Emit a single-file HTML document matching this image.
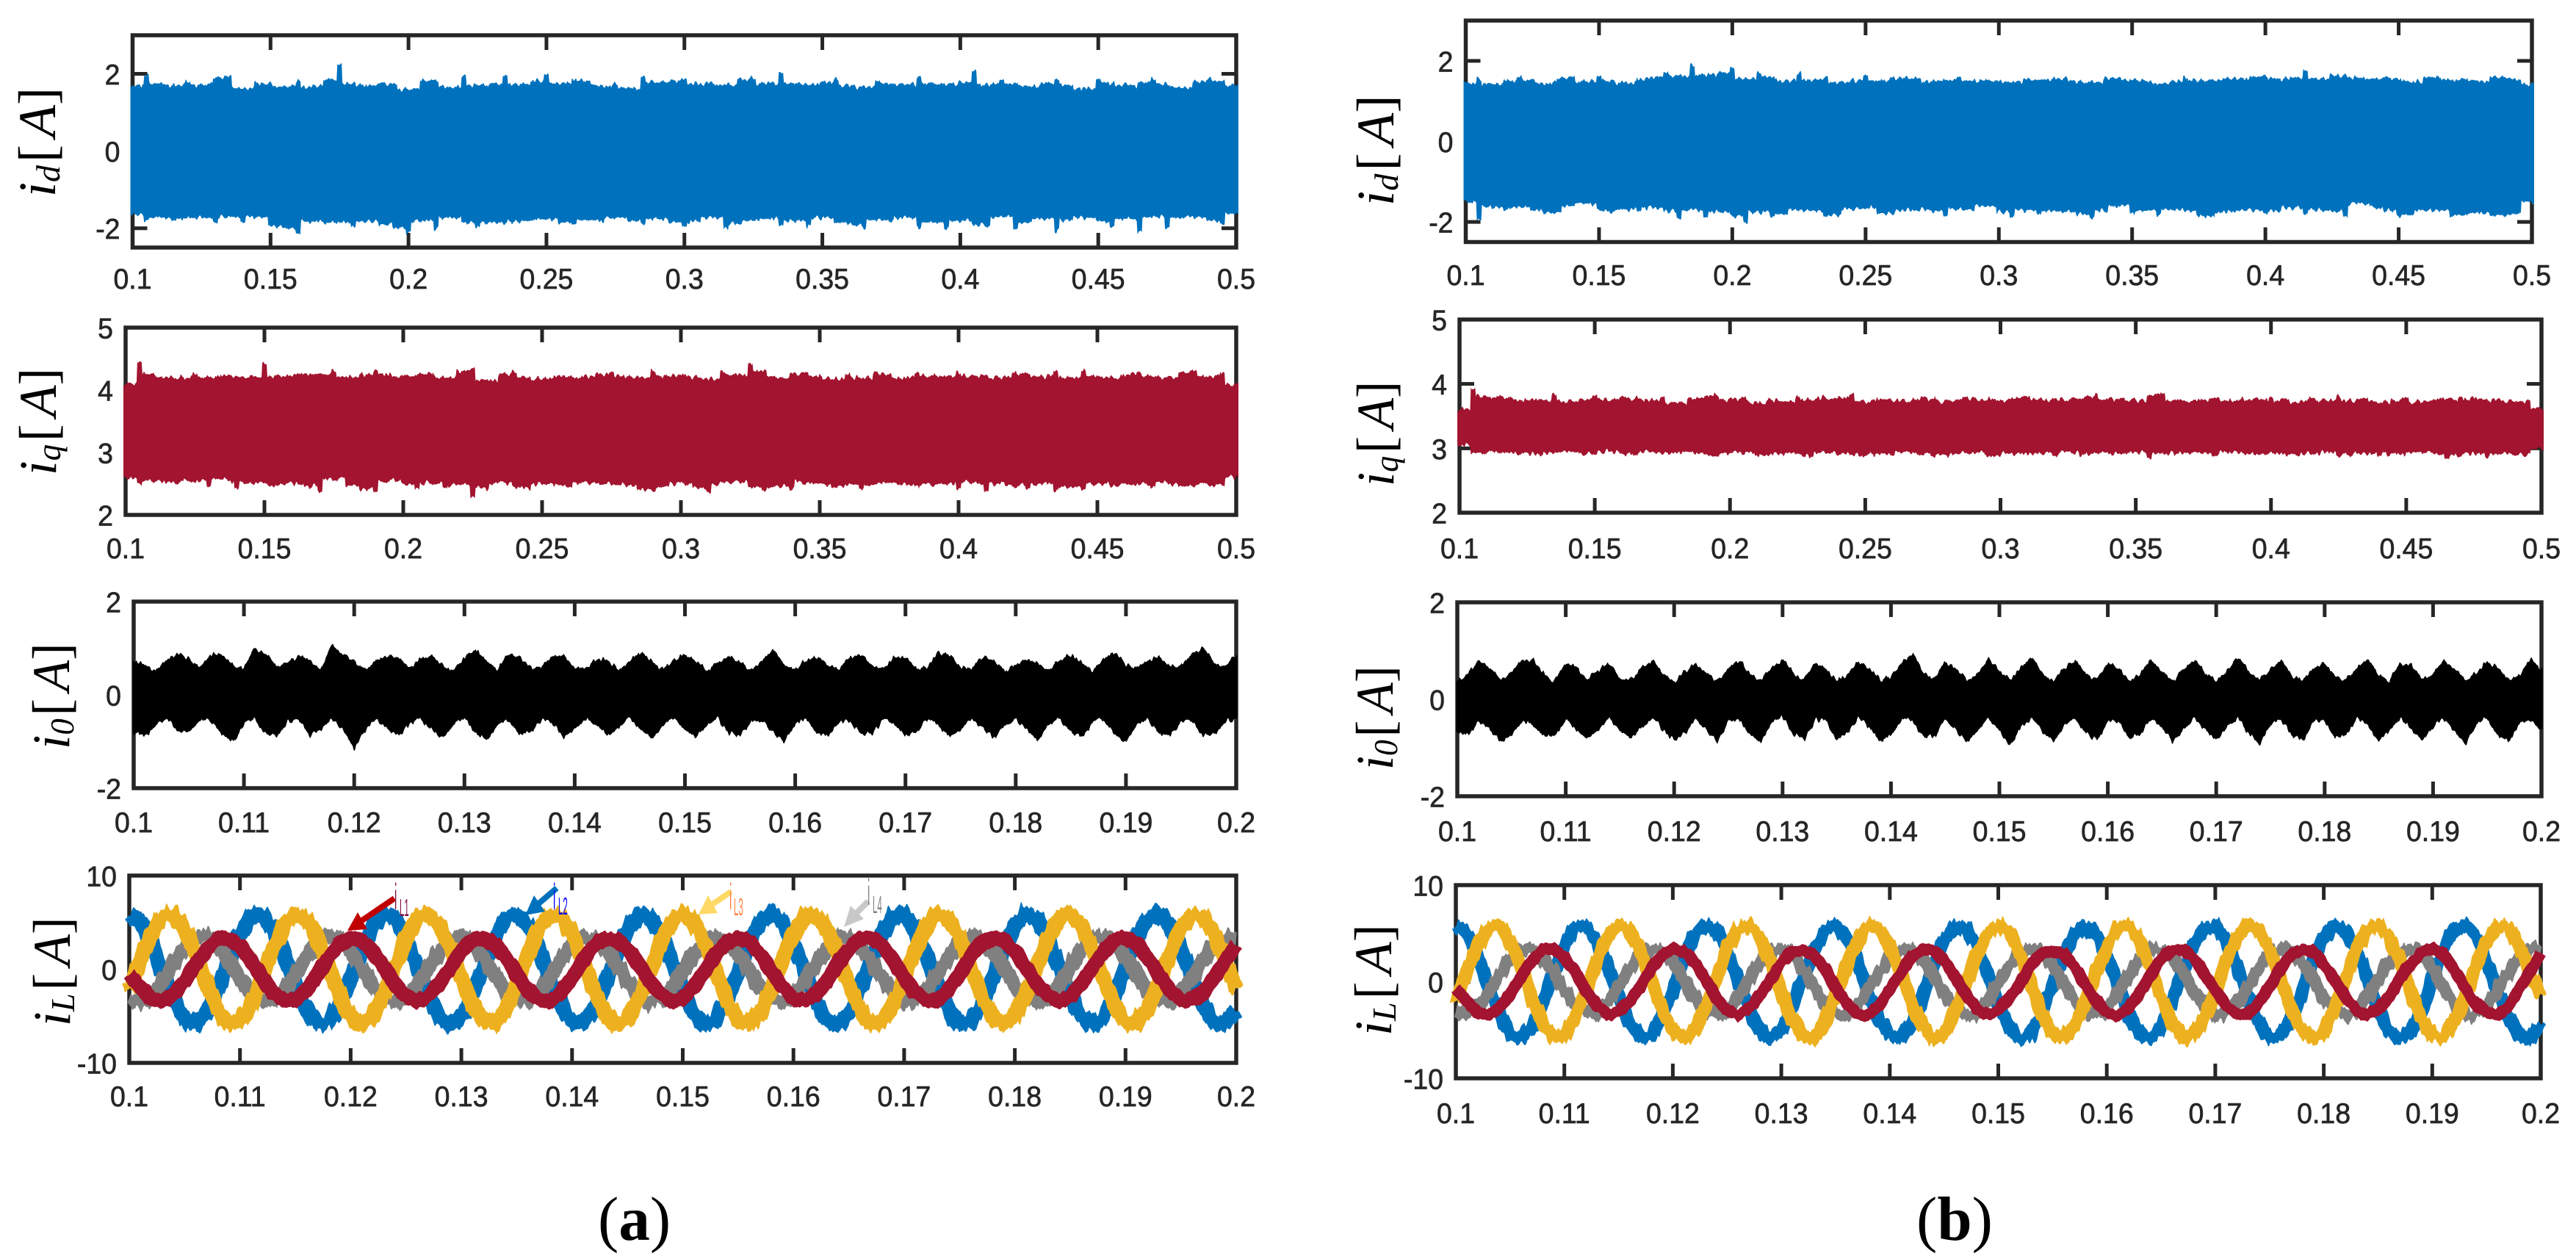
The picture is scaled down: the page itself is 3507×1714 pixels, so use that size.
<!DOCTYPE html>
<html lang="en">
<head>
<meta charset="utf-8">
<title>Current waveforms id, iq, i0, iL</title>
<style>
html,body{margin:0;padding:0;background:#fff;}
#chart{display:block;width:3507px;height:1714px;background:#fff;}
.tick-label{font-family:"Liberation Sans",Arial,sans-serif;font-size:39px;fill:#262626;stroke:#262626;stroke-width:.7px;}
.axis-label{font-family:"Liberation Serif","Times New Roman",serif;font-size:72px;fill:#000;}
.axis-label .it{font-style:italic;}
.axis-label .sub{font-style:italic;font-size:46px;}
.caption{font-family:"Liberation Serif","Times New Roman",serif;font-size:85px;fill:#000;}
.tag{font-family:"Liberation Sans",Arial,sans-serif;}
</style>
</head>
<body>
<svg id="chart" xmlns="http://www.w3.org/2000/svg" width="3507" height="1714" viewBox="0 0 3507 1714">
  <defs>
    <filter id="rough-line-1" filterUnits="userSpaceOnUse" x="0" y="0" width="3507" height="1714" color-interpolation-filters="sRGB">
      <feTurbulence type="fractalNoise" baseFrequency="0.16 0.012" numOctaves="2" seed="3"/>
      <feColorMatrix values="0 0 0 0 .5  0 1 0 0 0  0 0 0 0 .5  0 0 0 0 1" result="noise"/>
      <feDisplacementMap in="SourceGraphic" in2="noise" scale="20" xChannelSelector="R" yChannelSelector="G"/>
    </filter>
    <filter id="rough-line-2" filterUnits="userSpaceOnUse" x="0" y="0" width="3507" height="1714" color-interpolation-filters="sRGB">
      <feTurbulence type="fractalNoise" baseFrequency="0.16 0.012" numOctaves="2" seed="11"/>
      <feColorMatrix values="0 0 0 0 .5  0 1 0 0 0  0 0 0 0 .5  0 0 0 0 1" result="noise"/>
      <feDisplacementMap in="SourceGraphic" in2="noise" scale="20" xChannelSelector="R" yChannelSelector="G"/>
    </filter>
    <filter id="rough-line-3" filterUnits="userSpaceOnUse" x="0" y="0" width="3507" height="1714" color-interpolation-filters="sRGB">
      <feTurbulence type="fractalNoise" baseFrequency="0.16 0.012" numOctaves="2" seed="23"/>
      <feColorMatrix values="0 0 0 0 .5  0 1 0 0 0  0 0 0 0 .5  0 0 0 0 1" result="noise"/>
      <feDisplacementMap in="SourceGraphic" in2="noise" scale="20" xChannelSelector="R" yChannelSelector="G"/>
    </filter>
    <filter id="rough-line-4" filterUnits="userSpaceOnUse" x="0" y="0" width="3507" height="1714" color-interpolation-filters="sRGB">
      <feTurbulence type="fractalNoise" baseFrequency="0.12 0.012" numOctaves="2" seed="37"/>
      <feColorMatrix values="0 0 0 0 .5  0 1 0 0 0  0 0 0 0 .5  0 0 0 0 1" result="noise"/>
      <feDisplacementMap in="SourceGraphic" in2="noise" scale="10" xChannelSelector="R" yChannelSelector="G"/>
    </filter>
    <filter id="rough-band" filterUnits="userSpaceOnUse" x="0" y="0" width="3507" height="1714" color-interpolation-filters="sRGB">
      <feTurbulence type="fractalNoise" baseFrequency="0.2 0.01" numOctaves="2" seed="5"/>
      <feColorMatrix values="0 0 0 0 .5  0 1 0 0 0  0 0 0 0 .5  0 0 0 0 1" result="noise"/>
      <feDisplacementMap in="SourceGraphic" in2="noise" scale="13" xChannelSelector="R" yChannelSelector="G"/>
    </filter>
  </defs>

  <g id="panels"></g>

  <g>
    <text class="axis-label" transform="translate(75,268) rotate(-90)"><tspan class="it">i</tspan><tspan class="sub" dy="6">d</tspan><tspan dy="-6" dx="4">[</tspan><tspan class="it" dx="10">A</tspan><tspan>]</tspan></text>
    <text class="axis-label" transform="translate(76,647) rotate(-90) scale(.98,1)"><tspan class="it">i</tspan><tspan class="sub" dy="6">q</tspan><tspan dy="-6" dx="4">[</tspan><tspan class="it" dx="10">A</tspan><tspan>]</tspan></text>
    <text class="axis-label" transform="translate(94,1020) rotate(-90) scale(.97,1)"><tspan class="it">i</tspan><tspan class="sub" dy="6">0</tspan><tspan dy="-6" dx="4">[</tspan><tspan class="it" dx="10">A</tspan><tspan>]</tspan></text>
    <text class="axis-label" transform="translate(95,1397) rotate(-90) scale(.98,1)"><tspan class="it">i</tspan><tspan class="sub" dy="6">L</tspan><tspan dy="-6" dx="4">[</tspan><tspan class="it" dx="10">A</tspan><tspan>]</tspan></text>
    <text class="axis-label" transform="translate(1897,280) rotate(-90) scale(1.01,1)"><tspan class="it">i</tspan><tspan class="sub" dy="6">d</tspan><tspan dy="-6" dx="4">[</tspan><tspan class="it" dx="10">A</tspan><tspan>]</tspan></text>
    <text class="axis-label" transform="translate(1897,662) rotate(-90) scale(.96,1)"><tspan class="it">i</tspan><tspan class="sub" dy="6">q</tspan><tspan dy="-6" dx="4">[</tspan><tspan class="it" dx="10">A</tspan><tspan>]</tspan></text>
    <text class="axis-label" transform="translate(1896,1048) rotate(-90) scale(.95,1)"><tspan class="it">i</tspan><tspan class="sub" dy="6">0</tspan><tspan dy="-6" dx="4">[</tspan><tspan class="it" dx="10">A</tspan><tspan>]</tspan></text>
    <text class="axis-label" transform="translate(1894,1410) rotate(-90)"><tspan class="it">i</tspan><tspan class="sub" dy="6">L</tspan><tspan dy="-6" dx="4">[</tspan><tspan class="it" dx="10">A</tspan><tspan>]</tspan></text>
  </g>

  <g>
    <g>
      <line x1="537" y1="1223" x2="490" y2="1255" stroke="#C00000" stroke-width="8"/>
      <polygon points="473,1267 487,1242 500,1265" fill="#C00000"/>
      <text class="tag" transform="translate(537,1238) scale(.3,1)" font-size="50" fill="#7F0F3F">i</text>
      <text class="tag" transform="translate(544,1247) scale(.35,1)" font-size="33" fill="#7F0F3F">L1</text>
    </g>
    <g>
      <line x1="758" y1="1209" x2="730" y2="1233" stroke="#0072BD" stroke-width="8"/>
      <polygon points="715,1246 727,1219 742,1241" fill="#0072BD"/>
      <text class="tag" transform="translate(753,1238) scale(.3,1)" font-size="50" fill="#0000FF">i</text>
      <text class="tag" transform="translate(760,1245) scale(.35,1)" font-size="33" fill="#0000FF">L2</text>
    </g>
    <g>
      <line x1="995" y1="1214" x2="967" y2="1233" stroke="#FFD966" stroke-width="8"/>
      <polygon points="951,1245 964,1219 977,1243" fill="#FFD966"/>
      <text class="tag" transform="translate(993,1238) scale(.3,1)" font-size="50" fill="#FF7F40">i</text>
      <text class="tag" transform="translate(999,1246) scale(.35,1)" font-size="33" fill="#FF7F40">L3</text>
    </g>
    <g>
      <line x1="1182" y1="1227" x2="1165" y2="1244" stroke="#C8C8C8" stroke-width="8"/>
      <polygon points="1149,1262 1158,1233 1176,1251" fill="#C8C8C8"/>
      <text class="tag" transform="translate(1181,1232) scale(.3,1)" font-size="50" fill="#808080">i</text>
      <text class="tag" transform="translate(1188,1243) scale(.35,1)" font-size="33" fill="#808080">L4</text>
    </g>
  </g>

  <text class="caption" x="814" y="1688">(<tspan font-weight="bold">a</tspan>)</text>
  <text class="caption" x="2609" y="1688">(<tspan font-weight="bold">b</tspan>)</text>
</svg>

<script>
// tick values and labels
const longTicks = [0.1,0.15,0.2,0.25,0.3,0.35,0.4,0.45,0.5];
const longTickLabels = ["0.1","0.15","0.2","0.25","0.3","0.35","0.4","0.45","0.5"];
const shortTicks = [0.1,0.11,0.12,0.13,0.14,0.15,0.16,0.17,0.18,0.19,0.2];
const shortTickLabels = ["0.1","0.11","0.12","0.13","0.14","0.15","0.16","0.17","0.18","0.19","0.2"];
const idTicks = [-2,0,2];
const idTickLabels = ["-2","0","2"];
const iqTicks = [2,3,4,5];
const iqTickLabels = ["2","3","4","5"];
const i0Ticks = [-2,0,2];
const i0TickLabels = ["-2","0","2"];
const ilTicks = [-10,0,10];
const ilTickLabels = ["-10","0","10"];

// (a) id envelope, sampled every 5 ms
const idUpperA = [1.7,1.95,1.75,1.7,1.78,1.72,1.9,1.95,1.62,1.75,1.72,1.68,1.8,1.66,1.85,2.25,1.74,1.7,1.74,1.72,1.6,1.85,1.82,1.66,1.92,1.7,1.74,1.95,1.72,1.82,1.98,1.75,1.86,1.82,1.7,1.72,1.62,1.9,1.78,1.82,1.85,1.75,1.8,1.7,1.85,1.9,1.75,2.0,1.76,1.72,1.78,1.85,1.7,1.66,1.8,1.74,1.72,1.9,1.76,1.72,1.78,2.05,1.72,1.82,1.74,1.68,1.76,1.85,1.72,1.62,1.86,1.76,1.7,1.78,1.86,1.74,1.64,1.78,1.85,1.82,1.7];
const idLowerA = [-1.65,-1.78,-1.72,-1.8,-1.74,-1.72,-1.85,-1.7,-1.82,-1.7,-1.95,-1.98,-2.1,-1.82,-1.85,-1.85,-1.95,-1.82,-1.9,-1.98,-2.12,-1.8,-2.0,-1.72,-1.85,-1.95,-1.85,-1.85,-1.82,-1.8,-1.76,-1.85,-1.9,-1.78,-1.82,-1.72,-1.8,-1.88,-1.75,-1.85,-1.95,-1.82,-1.72,-2.0,-1.88,-1.8,-1.75,-1.92,-1.8,-1.95,-1.72,-1.85,-1.9,-1.98,-1.78,-1.82,-1.72,-1.95,-1.85,-2.02,-1.8,-1.9,-1.95,-1.7,-2.0,-1.85,-1.75,-2.05,-1.78,-1.72,-1.82,-1.95,-1.75,-2.12,-1.7,-2.0,-1.72,-1.7,-1.8,-1.9,-1.62];
// (b) id envelope
const idUpperB = [1.45,1.55,1.42,1.5,1.6,1.52,1.45,1.56,1.6,1.48,1.62,1.5,1.45,1.55,1.6,1.7,1.62,1.87,1.65,1.7,1.82,1.55,1.7,1.6,1.5,1.7,1.52,1.58,1.46,1.5,1.65,1.5,1.56,1.6,1.55,1.48,1.52,1.58,1.5,1.52,1.5,1.48,1.54,1.52,1.55,1.55,1.5,1.46,1.56,1.58,1.52,1.5,1.44,1.48,1.6,1.5,1.52,1.56,1.55,1.6,1.62,1.55,1.58,1.75,1.55,1.66,1.62,1.58,1.55,1.6,1.55,1.48,1.58,1.6,1.52,1.56,1.5,1.6,1.58,1.54,1.4];
const idLowerB = [-1.5,-1.95,-1.62,-1.7,-1.62,-1.72,-1.78,-1.75,-1.6,-1.55,-1.7,-1.78,-1.68,-1.72,-1.65,-1.72,-1.9,-1.7,-1.88,-1.75,-1.85,-2.0,-1.75,-1.85,-1.8,-1.7,-1.72,-1.85,-1.82,-1.68,-1.65,-1.78,-1.8,-1.72,-1.7,-1.72,-1.85,-1.68,-1.72,-1.6,-1.75,-1.88,-1.7,-1.82,-1.72,-1.75,-1.8,-1.9,-1.72,-1.6,-1.78,-1.7,-1.82,-1.7,-1.72,-1.85,-1.88,-1.75,-1.72,-1.7,-1.78,-1.72,-1.65,-1.8,-1.7,-1.72,-1.85,-1.55,-1.65,-1.72,-1.85,-1.82,-1.72,-1.7,-1.85,-1.82,-1.78,-1.82,-1.85,-1.8,-1.5];

// iq envelopes
const iqUpperA = [4.1,4.45,4.25,4.2,4.2,4.25,4.2,4.25,4.22,4.2,4.42,4.22,4.25,4.25,4.25,4.3,4.2,4.25,4.3,4.25,4.22,4.25,4.28,4.2,4.3,4.35,4.15,4.25,4.3,4.2,4.18,4.22,4.2,4.22,4.25,4.28,4.22,4.2,4.3,4.22,4.25,4.22,4.18,4.28,4.25,4.42,4.3,4.2,4.25,4.28,4.22,4.18,4.25,4.2,4.28,4.25,4.2,4.28,4.22,4.22,4.28,4.22,4.22,4.2,4.28,4.25,4.22,4.3,4.2,4.3,4.22,4.2,4.25,4.28,4.22,4.2,4.28,4.3,4.22,4.28,4.1];
const iqLowerA = [2.6,2.5,2.55,2.5,2.52,2.55,2.48,2.55,2.42,2.52,2.5,2.48,2.5,2.46,2.38,2.58,2.48,2.42,2.38,2.55,2.5,2.42,2.52,2.42,2.48,2.28,2.44,2.52,2.45,2.42,2.5,2.48,2.45,2.52,2.5,2.5,2.48,2.38,2.4,2.45,2.5,2.42,2.38,2.5,2.52,2.45,2.4,2.45,2.42,2.52,2.5,2.45,2.48,2.42,2.5,2.52,2.48,2.45,2.5,2.5,2.42,2.52,2.38,2.5,2.48,2.42,2.5,2.4,2.45,2.42,2.5,2.45,2.48,2.5,2.42,2.5,2.45,2.48,2.5,2.48,2.6];
const iqUpperB = [3.6,3.95,3.8,3.78,3.75,3.78,3.75,3.82,3.72,3.76,3.8,3.75,3.8,3.78,3.75,3.78,3.72,3.8,3.78,3.82,3.76,3.78,3.72,3.76,3.74,3.8,3.76,3.78,3.8,3.85,3.72,3.76,3.75,3.74,3.76,3.78,3.72,3.75,3.8,3.76,3.74,3.78,3.8,3.75,3.78,3.76,3.78,3.84,3.76,3.78,3.74,3.82,3.86,3.76,3.74,3.78,3.76,3.74,3.78,3.75,3.8,3.76,3.72,3.78,3.75,3.8,3.74,3.76,3.72,3.75,3.78,3.72,3.75,3.74,3.8,3.78,3.76,3.74,3.72,3.75,3.6];
const iqLowerB = [3.05,2.93,2.92,2.95,2.93,2.92,2.9,2.94,2.95,2.9,2.92,2.95,2.92,2.88,2.95,2.9,2.93,2.94,2.9,2.88,2.92,2.94,2.88,2.9,2.92,2.9,2.88,2.93,2.92,2.9,2.88,2.92,2.9,2.94,2.92,2.88,2.9,2.92,2.94,2.88,2.9,2.93,2.92,2.92,2.9,2.94,2.9,2.92,2.93,2.9,2.94,2.88,2.92,2.9,2.93,2.92,2.9,2.94,2.92,2.9,2.92,2.9,2.88,2.92,2.94,2.88,2.9,2.93,2.88,2.92,2.9,2.94,2.92,2.86,2.9,2.92,2.88,2.92,2.9,2.9,3.0];

// i0 envelopes, sampled every 1 ms
const i0UpperA = [.7,.62,.5,.72,.88,.75,.55,.85,.85,.6,.55,.98,.85,.58,.68,.82,.72,.5,1.05,.85,.7,.5,.72,.82,.78,.55,.75,.82,.6,.48,.78,.95,.7,.52,.85,.8,.55,.58,.82,.82,.55,.55,.75,.72,.5,.7,.9,.68,.52,.72,.85,.7,.5,.68,.8,.68,.5,.72,.95,.62,.52,.72,.8,.6,.55,.78,.85,.58,.55,.78,.8,.52,.58,.88,.85,.55,.55,.8,.72,.5,.62,.75,.65,.52,.72,.85,.65,.5,.75,.9,.62,.55,.72,.8,.58,.6,.85,1.0,.65,.58,.85];
const i0LowerA = [-.8,-.85,-.65,-.45,-.75,-.78,-.5,-.55,-.8,-1.0,-.6,-.5,-.82,-.85,-.55,-.5,-.85,-.7,-.48,-.72,-1.1,-.72,-.48,-.7,-.85,-.62,-.48,-.72,-.9,-.62,-.45,-.8,-.95,-.6,-.5,-.82,-.78,-.5,-.58,-.88,-.72,-.48,-.62,-.85,-.68,-.48,-.7,-.92,-.62,-.45,-.72,-.88,-.6,-.5,-.8,-.85,-.55,-.52,-.78,-.98,-.58,-.5,-.8,-.85,-.55,-.55,-.82,-.8,-.5,-.6,-.85,-.78,-.48,-.62,-.88,-.72,-.48,-.68,-.9,-.62,-.5,-.72,-.95,-.6,-.48,-.78,-.88,-.55,-.5,-.82,-1.0,-.58,-.52,-.8,-.85,-.55,-.55,-.85,-.82,-.55,-.5];
const i0UpperB = [.35,.5,.78,.62,.36,.55,.78,.8,.48,.35,.72,.65,.38,.58,.72,.42,.38,.62,.78,.5,.34,.55,.72,.5,.34,.62,.78,.48,.38,.62,.8,.52,.36,.72,.62,.36,.48,.75,.62,.4,.42,.72,.92,.5,.38,.75,.6,.36,.5,.82,.55,.38,.62,.85,.48,.36,.62,.78,.48,.38,.72,.62,.35,.52,.78,.55,.36,.58,.8,.52,.36,.55,.85,.55,.38,.6,.78,.45,.4,.62,.72,.42,.4,.62,.8,.48,.36,.72,.68,.38,.48,.78,.6,.36,.52,.75,.62,.36,.5,.8,.6];
const i0LowerB = [-.65,-.72,-.42,-.6,-.85,-.72,-.42,-.5,-.75,-.72,-.42,-.6,-.8,-.6,-.35,-.62,-.78,-.55,-.35,-.62,-.82,-.68,-.36,-.62,-.85,-.42,-.38,-.72,-.85,-.45,-.32,-.7,-.8,-.4,-.42,-.82,-.65,-.36,-.55,-.85,-.72,-.38,-.42,-.75,-.75,-.35,-.62,-.85,-.62,-.35,-.62,-.92,-.55,-.35,-.65,-.85,-.5,-.36,-.68,-.82,-.42,-.42,-.78,-.7,-.36,-.55,-.85,-.6,-.35,-.6,-.82,-.55,-.36,-.68,-.9,-.48,-.38,-.72,-.82,-.42,-.42,-.78,-.7,-.36,-.5,-.85,-.6,-.36,-.6,-.82,-.55,-.35,-.65,-.88,-.48,-.38,-.72,-.85,-.42,-.42,-.6];

// (a) phase currents, sampled every 1 ms
const iL2A = [5.9,5.1,2.8,-.3,-3.3,-5.4,-5.9,-4.7,-2.2,1.0,3.8,5.6,5.8,4.3,1.6,-1.6,-4.3,-5.8,-5.6,-3.8,-1.0,2.2,4.7,5.9,5.4,3.3,.3,-2.8,-5.1,-5.9,-5.1,-2.8,.3,3.3,5.4,5.9,4.7,2.2,-1.0,-3.8,-5.6,-5.8,-4.3,-1.6,1.6,4.3,5.8,5.6,3.8,1.0,-2.2,-4.7,-5.9,-5.4,-3.3,-.3,2.8,5.1,5.9,5.1,2.8,-.3,-3.3,-5.4,-5.9,-4.7,-2.2,1.0,3.8,5.6,5.8,4.3,1.6,-1.6,-4.3,-5.8,-5.6,-3.8,-1.0,2.2,4.7,5.9,5.4,3.3,.3,-2.8,-5.1,-5.9,-5.1,-2.8,.3,3.3,5.4,5.9,4.7,2.2,-1.0,-3.8,-5.6,-5.8,-4.3];
const iL4A = [-3.2,-3.5,-2.8,-1.3,.6,2.3,3.3,3.4,2.5,.9,-.9,-2.5,-3.4,-3.3,-2.3,-.6,1.3,2.8,3.5,3.2,2.0,.2,-1.7,-3.0,-3.5,-3.0,-1.7,.2,2.0,3.2,3.5,2.8,1.3,-.6,-2.3,-3.3,-3.4,-2.5,-.9,.9,2.5,3.4,3.3,2.3,.6,-1.3,-2.8,-3.5,-3.2,-2.0,-.2,1.7,3.0,3.5,3.0,1.7,-.2,-2.0,-3.2,-3.5,-2.8,-1.3,.6,2.3,3.3,3.4,2.5,.9,-.9,-2.5,-3.4,-3.3,-2.3,-.6,1.3,2.8,3.5,3.2,2.0,.2,-1.7,-3.0,-3.5,-3.0,-1.7,.2,2.0,3.2,3.5,2.8,1.3,-.6,-2.3,-3.3,-3.4,-2.5,-.9,.9,2.5,3.4,3.3];
const iL3A = [-2.2,1.0,3.8,5.6,5.8,4.3,1.6,-1.6,-4.3,-5.8,-5.6,-3.8,-1.0,2.2,4.7,5.9,5.4,3.3,.3,-2.8,-5.1,-5.9,-5.1,-2.8,.3,3.3,5.4,5.9,4.7,2.2,-1.0,-3.8,-5.6,-5.8,-4.3,-1.6,1.6,4.3,5.8,5.6,3.8,1.0,-2.2,-4.7,-5.9,-5.4,-3.3,-.3,2.8,5.1,5.9,5.1,2.8,-.3,-3.3,-5.4,-5.9,-4.7,-2.2,1.0,3.8,5.6,5.8,4.3,1.6,-1.6,-4.3,-5.8,-5.6,-3.8,-1.0,2.2,4.7,5.9,5.4,3.3,.3,-2.8,-5.1,-5.9,-5.1,-2.8,.3,3.3,5.4,5.9,4.7,2.2,-1.0,-3.8,-5.6,-5.8,-4.3,-1.6,1.6,4.3,5.8,5.6,3.8,1.0,-2.2];
const iL1A = [-.6,-1.9,-3.1,-3.4,-2.7,-1.3,.6,2.2,3.2,3.3,2.5,.9,-.9,-2.5,-3.3,-3.2,-2.2,-.6,1.3,2.7,3.4,3.1,1.9,.2,-1.6,-2.9,-3.4,-2.9,-1.6,.2,1.9,3.1,3.4,2.7,1.3,-.6,-2.2,-3.2,-3.3,-2.5,-.9,.9,2.5,3.3,3.2,2.2,.6,-1.3,-2.7,-3.4,-3.1,-1.9,-.2,1.6,2.9,3.4,2.9,1.6,-.2,-1.9,-3.1,-3.4,-2.7,-1.3,.6,2.2,3.2,3.3,2.5,.9,-.9,-2.5,-3.3,-3.2,-2.2,-.6,1.3,2.7,3.4,3.1,1.9,.2,-1.6,-2.9,-3.4,-2.9,-1.6,.2,1.9,3.1,3.4,2.7,1.3,-.6,-2.2,-3.2,-3.3,-2.5,-.9,.9,2.5];

// (b) phase currents, sampled every 1 ms
const iL2B = [5.8,5.0,2.7,-.4,-3.3,-5.4,-5.8,-4.7,-2.3,1.0,3.7,5.6,5.7,4.3,1.7,-1.6,-4.2,-5.7,-5.6,-3.7,-1.0,2.3,4.7,5.8,5.4,3.2,.3,-2.8,-5.2,-5.8,-5.0,-2.8,.4,3.3,5.3,5.8,4.6,2.2,-1.1,-3.8,-5.5,-5.8,-4.4,-1.6,1.5,4.3,5.7,5.6,3.7,1.0,-2.3,-4.7,-5.9,-5.5,-3.3,-.4,2.8,5.0,5.8,5.1,2.7,-.3,-3.2,-5.4,-5.8,-4.8,-2.2,1.1,3.8,5.5,5.8,4.2,1.6,-1.5,-4.3,-5.8,-5.5,-3.8,-1.1,2.2,4.6,5.8,5.3,3.3,.4,-2.7,-5.1,-5.9,-5.2,-2.9,.3,3.2,5.4,5.8,4.7,2.2,-1.0,-3.7,-5.6,-5.9,-4.4];
const iL4B = [-3.1,-3.4,-2.8,-1.2,.7,2.3,3.3,3.5,2.6,1.0,-.9,-2.5,-3.3,-3.3,-2.2,-.6,1.4,2.8,3.4,3.2,2.1,.3,-1.7,-3.0,-3.4,-3.0,-1.6,.2,2.1,3.2,3.4,2.8,1.3,-.5,-2.3,-3.2,-3.4,-2.5,-.8,.9,2.6,3.4,3.2,2.3,.7,-1.3,-2.7,-3.4,-3.2,-2.0,-.1,1.7,3.0,3.4,3.0,1.8,-.2,-1.9,-3.2,-3.4,-2.8,-1.2,.6,2.4,3.3,3.3,2.5,1.0,-.9,-2.4,-3.4,-3.2,-2.3,-.5,1.3,2.9,3.4,3.2,2.0,.3,-1.7,-2.9,-3.4,-3.0,-1.6,.2,2.1,3.2,3.4,2.8,1.4,-.6,-2.2,-3.3,-3.3,-2.5,-.8,.9,2.6,3.4,3.2];
const iL3B = [-2.1,1.1,3.8,5.5,5.8,4.2,1.6,-1.7,-4.3,-5.7,-5.6,-3.7,-1.0,2.3,4.6,5.8,5.4,3.2,.3,-2.9,-5.1,-5.8,-5.1,-2.7,.3,3.4,5.4,5.8,4.7,2.1,-1.0,-3.9,-5.6,-5.9,-4.3,-1.5,1.6,4.2,5.8,5.5,3.8,1.1,-2.2,-4.6,-5.9,-5.4,-3.2,-.3,2.8,5.0,5.8,5.1,2.9,-.3,-3.2,-5.4,-5.8,-4.7,-2.3,1.0,3.7,5.6,5.7,4.3,1.5,-1.6,-4.2,-5.8,-5.5,-3.8,-1.1,2.2,4.6,5.9,5.3,3.3,.4,-2.8,-5.0,-5.9,-5.2,-2.8,.2,3.3,5.3,5.9,4.6,2.2,-1.0,-3.7,-5.6,-5.7,-4.3,-1.7,1.6,4.2,5.7,5.6,3.7,1.0,-1.4];
const iL1B = [-.7,-2.0,-3.2,-3.5,-2.8,-1.3,.5,2.2,3.3,3.4,2.5,1.0,-.9,-2.5,-3.4,-3.2,-2.1,-.6,1.4,2.7,3.4,3.2,1.9,.3,-1.6,-3.0,-3.4,-2.9,-1.5,.2,2.0,3.1,3.3,2.7,1.4,-.6,-2.2,-3.3,-3.4,-2.5,-.8,.9,2.6,3.4,3.3,2.2,.5,-1.3,-2.8,-3.4,-3.0,-1.8,-.2,1.7,2.9,3.3,2.9,1.6,-.3,-1.9,-3.2,-3.4,-2.7,-1.2,.6,2.3,3.2,3.4,2.5,.8,-.9,-2.6,-3.3,-3.3,-2.2,-.5,1.3,2.8,3.4,3.1,1.8,.2,-1.7,-2.9,-3.5,-2.9,-1.6,.3,1.9,3.0,3.4,2.8,1.3,-.6,-2.3,-3.2,-3.4,-2.5,-.8,1.0,2.8];

const NS = "http://www.w3.org/2000/svg";
const root = document.getElementById("panels");
const INK = "#262626";

function scale(d0, d1, r0, r1) {
  return function (v) { return r0 + (v - d0) * (r1 - r0) / (d1 - d0); };
}
function svgEl(tag, parent) {
  const el = document.createElementNS(NS, tag);
  parent.appendChild(el);
  return el;
}
function seg(parent, x1, y1, x2, y2, w) {
  const ln = svgEl("line", parent);
  ln.setAttribute("x1", x1); ln.setAttribute("y1", y1);
  ln.setAttribute("x2", x2); ln.setAttribute("y2", y2);
  ln.setAttribute("stroke", INK); ln.setAttribute("stroke-width", w);
  return ln;
}
function sampleX(i, n, xs, dom) { return xs(dom[0] + i * (dom[1] - dom[0]) / (n - 1)); }
function pt(x, y) { return x.toFixed(1) + "," + y.toFixed(1); }

function drawAxes(p, g, xs, ys) {
  const frame = svgEl("rect", g);
  
  
  frame.setAttribute("x", p.x0); frame.setAttribute("y", p.top);
  frame.setAttribute("width", p.x1 - p.x0); frame.setAttribute("height", p.bottom - p.top);
  frame.setAttribute("fill", "none"); frame.setAttribute("stroke", INK); frame.setAttribute("stroke-width", 5.5);
  p.xTicks.forEach(function (t, i) {
    const x = xs(t);
    if (i > 0 && i < p.xTicks.length - 1) {
      seg(g, x, p.top, x, p.top + 20, 5);
      seg(g, x, p.bottom, x, p.bottom - 20, 5);
    }
    const tx = svgEl("text", g);
    
    
    tx.setAttribute("class", "tick-label");
    tx.setAttribute("text-anchor", "middle");
    tx.setAttribute("transform", "translate(" + x + "," + p.labelY + ") scale(.96,1)");
    tx.textContent = p.xLabels[i];
  });
  p.yTicks.forEach(function (t, i) {
    const y = ys(t);
    if (y > p.top + 1 && y < p.bottom - 1) {
      seg(g, p.x0, y, p.x0 + 20, y, 5);
      seg(g, p.x1, y, p.x1 - 20, y, 5);
    }
    const tx = svgEl("text", g);
    
    
    tx.setAttribute("class", "tick-label");
    tx.setAttribute("text-anchor", "end");
    tx.setAttribute("transform", "translate(" + (p.x0 - 17) + "," + (y + 14.5) + ") scale(.96,1)");
    tx.textContent = p.yLabels[i];
  });
}

function edgeComb(values, xs, ys, dom, pick) {
  const out = [];
  const n = values.length;
  values.forEach(function (v, i) {
    const x = sampleX(i, n, xs, dom);
    out.push(pt(x - 2.5, ys(v)));
    out.push(pt(x + 2.5, ys(v)));
    if (i < n - 1) {
      const valley = ys(pick(v, values[i + 1]));
      const next = sampleX(i + 1, n, xs, dom);
      out.push(pt(x + 3.5, valley));
      out.push(pt(next - 3.5, valley));
    }
  });
  return out;
}
function edgeLinear(values, xs, ys, dom) {
  return values.map(function (v, i) { return pt(sampleX(i, values.length, xs, dom), ys(v)); });
}

function drawBand(p, g, xs, ys) {
  let up, low;
  if (p.comb) {
    up = edgeComb(p.upper, xs, ys, p.xDom, Math.min);
    low = edgeComb(p.lower, xs, ys, p.xDom, Math.max);
  } else {
    up = edgeLinear(p.upper, xs, ys, p.xDom);
    low = edgeLinear(p.lower, xs, ys, p.xDom);
  }
  const band = svgEl("polygon", g);
  
  
  band.setAttribute("points", up.concat(low.reverse()).join(" "));
  band.setAttribute("fill", p.color);
  band.setAttribute("stroke", p.color);
  band.setAttribute("stroke-width", p.comb ? 1 : 3);
  band.setAttribute("stroke-linejoin", "round");
  band.setAttribute("filter", "url(#rough-band)");
}

function drawLines(p, g, xs, ys) {
  p.lines.forEach(function (s) {
    const pts = s.values.map(function (v, i) {
      return pt(sampleX(i, s.values.length, xs, p.xDom), ys(v));
    });
    const line = svgEl("polyline", g);
    
    
    line.setAttribute("points", pts.join(" "));
    line.setAttribute("fill", "none");
    line.setAttribute("stroke", s.color);
    line.setAttribute("stroke-width", s.width);
    line.setAttribute("stroke-linejoin", "round");
    line.setAttribute("filter", "url(#" + s.rough + ")");
  });
}

const BLUE = "#0072BD", RED = "#A2142F", YELLOW = "#EDB120", GREY = "#808080", BLACK = "#000000";
const panelsList = [
  {name:"panel-id-a", x0:180.5, x1:1683, top:48, bottom:337, labelY:393, xDom:[0.1,0.5], yDom:[-2.5,3], xTicks:longTicks, xLabels:longTickLabels, yTicks:idTicks, yLabels:idTickLabels, upper:idUpperA, lower:idLowerA, color:BLUE, comb:true},
  {name:"panel-iq-a", x0:171, x1:1683, top:446, bottom:701, labelY:760, xDom:[0.1,0.5], yDom:[2,5], xTicks:longTicks, xLabels:longTickLabels, yTicks:iqTicks, yLabels:iqTickLabels, upper:iqUpperA, lower:iqLowerA, color:RED, comb:true},
  {name:"panel-i0-a", x0:182, x1:1683, top:819, bottom:1073, labelY:1133, xDom:[0.1,0.2], yDom:[-2,2], xTicks:shortTicks, xLabels:shortTickLabels, yTicks:i0Ticks, yLabels:i0TickLabels, upper:i0UpperA, lower:i0LowerA, color:BLACK, comb:false},
  {name:"panel-il-a", x0:176, x1:1683, top:1192, bottom:1447, labelY:1506, xDom:[0.1,0.2], yDom:[-10,10], xTicks:shortTicks, xLabels:shortTickLabels, yTicks:ilTicks, yLabels:ilTickLabels, lines:[{values:iL2A,color:BLUE,width:21,rough:"rough-line-1"},{values:iL4A,color:GREY,width:20,rough:"rough-line-2"},{values:iL3A,color:YELLOW,width:21,rough:"rough-line-3"},{values:iL1A,color:RED,width:20,rough:"rough-line-4"}]},
  {name:"panel-id-b", x0:1995.5, x1:3447, top:28, bottom:329.5, labelY:388, xDom:[0.1,0.5], yDom:[-2.5,3], xTicks:longTicks, xLabels:longTickLabels, yTicks:idTicks, yLabels:idTickLabels, upper:idUpperB, lower:idLowerB, color:BLUE, comb:true},
  {name:"panel-iq-b", x0:1987, x1:3460, top:435, bottom:698, labelY:760, xDom:[0.1,0.5], yDom:[2,5], xTicks:longTicks, xLabels:longTickLabels, yTicks:iqTicks, yLabels:iqTickLabels, upper:iqUpperB, lower:iqLowerB, color:RED, comb:true},
  {name:"panel-i0-b", x0:1984, x1:3460, top:820, bottom:1084, labelY:1145, xDom:[0.1,0.2], yDom:[-2,2], xTicks:shortTicks, xLabels:shortTickLabels, yTicks:i0Ticks, yLabels:i0TickLabels, upper:i0UpperB, lower:i0LowerB, color:BLACK, comb:false},
  {name:"panel-il-b", x0:1982, x1:3459, top:1205, bottom:1468, labelY:1529, xDom:[0.1,0.2], yDom:[-10,10], xTicks:shortTicks, xLabels:shortTickLabels, yTicks:ilTicks, yLabels:ilTickLabels, lines:[{values:iL2B,color:BLUE,width:18,rough:"rough-line-1"},{values:iL4B,color:GREY,width:17,rough:"rough-line-2"},{values:iL3B,color:YELLOW,width:18,rough:"rough-line-3"},{values:iL1B,color:RED,width:16,rough:"rough-line-4"}]}
];

panelsList.forEach(function (p) {
  const g = svgEl("g", root);
  
  
  const xs = scale(p.xDom[0], p.xDom[1], p.x0, p.x1);
  const ys = scale(p.yDom[0], p.yDom[1], p.bottom, p.top);
  drawAxes(p, g, xs, ys);
  if (p.lines) { drawLines(p, g, xs, ys); } else { drawBand(p, g, xs, ys); }
});
</script>
</body>
</html>
